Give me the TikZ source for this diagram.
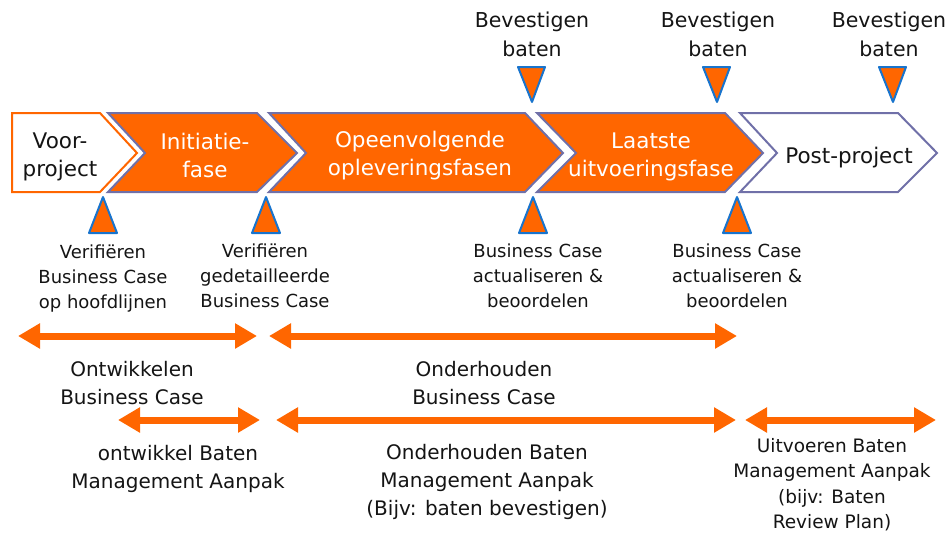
\documentclass[tikz,border=0pt]{standalone}
\usepackage{fontspec}
\setmainfont{DejaVu Sans}
\usetikzlibrary{arrows.meta}
\definecolor{orng}{RGB}{255,102,0}
\definecolor{chev}{RGB}{112,112,168}
\definecolor{tri}{RGB}{24,116,205}
\definecolor{ink}{RGB}{20,20,20}
\begin{document}
\begin{tikzpicture}[x=1pt,y=-1pt,
  chevorange/.style={fill=orng,draw=chev,line width=2pt,line join=miter},
  chevwhite/.style={fill=white,draw=chev,line width=2pt,line join=miter},
  triangle/.style={fill=orng,draw=tri,line width=2pt,line join=round},
  phasetext/.style={align=center,inner sep=0pt,font=\fontsize{21.5}{28}\selectfont},
  toptext/.style={align=center,inner sep=0pt,text=ink,font=\fontsize{20.5}{29}\selectfont},
  midtext/.style={align=center,inner sep=0pt,text=ink,font=\fontsize{18}{25}\selectfont},
  lowtext/.style={align=center,inner sep=0pt,text=ink,font=\fontsize{20}{28}\selectfont},
  smalltext/.style={align=center,inner sep=0pt,text=ink,font=\fontsize{18.5}{25.3}\selectfont},
  span/.style={draw=orng,line width=7pt,{Triangle[length=22pt,width=24pt]}-{Triangle[length=22pt,width=24pt]}}
]
\useasboundingbox (0,0) rectangle (950,533);

% chevrons
\draw[fill=white,draw=orng,line width=2pt] (12,113)--(100,113)--(137,153)--(100,192)--(12,192)--cycle;
\draw[chevorange] (108,113)--(257,113)--(297,153)--(257,192)--(108,192)--(145,153)--cycle;
\draw[chevorange] (269,113)--(525,113)--(563,153)--(525,192)--(269,192)--(306,153)--cycle;
\draw[chevorange] (537,113)--(725,113)--(763,153)--(725,192)--(537,192)--(576,153)--cycle;
\draw[chevwhite] (740,113)--(898,113)--(937,153)--(898,192)--(740,192)--(777,153)--cycle;

\node[phasetext,text=ink] (voor) at (60,156.5) {Voor-\\project};
\node[phasetext,text=white] (init) at (205,155.7) {Initiatie-\\fase};
\node[phasetext,text=white] (opeen) at (420,155.3) {Opeenvolgende\\opleveringsfasen};
\node[phasetext,text=white] (laatste) at (651,156.5) {Laatste\\uitvoeringsfase};
\node[phasetext,text=ink] (post) at (849,157.3) {Post-project};

% down triangles and labels
\draw[triangle] (518,67)--(545,67)--(532,102)--cycle;
\draw[triangle] (703,67)--(730,67)--(717,102)--cycle;
\draw[triangle] (879,67)--(906,67)--(893,102)--cycle;
\node[toptext] (bev1) at (532,34.7) {Bevestigen\\baten};
\node[toptext] (bev2) at (718,34.7) {Bevestigen\\baten};
\node[toptext] (bev3) at (889,34.7) {Bevestigen\\baten};

% up triangles and labels
\draw[triangle] (103,197)--(117,233)--(89,233)--cycle;
\draw[triangle] (266,197)--(280,233)--(252,233)--cycle;
\draw[triangle] (533,197)--(547,233)--(519,233)--cycle;
\draw[triangle] (737,197)--(751,233)--(723,233)--cycle;
\node[midtext] (ver1) at (103,278.3) {Verifiëren\\Business Case\\op hoofdlijnen};
\node[midtext] (ver2) at (265,276) {Verifiëren\\gedetailleerde\\Business Case};
\node[midtext] (act1) at (538,275.6) {Business Case\\actualiseren \&\\beoordelen};
\node[midtext] (act2) at (737,275.6) {Business Case\\actualiseren \&\\beoordelen};

% span arrows
\coordinate (a1l) at (18,336);  \coordinate (a1r) at (257,336);
\coordinate (a2l) at (269,336); \coordinate (a2r) at (737,336);
\coordinate (b1l) at (118,420); \coordinate (b1r) at (260,420);
\coordinate (b2l) at (276,420); \coordinate (b2r) at (736,420);
\coordinate (b3l) at (745,420); \coordinate (b3r) at (936,420);
\draw[span] (a1l) -- (a1r);
\draw[span] (a2l) -- (a2r);
\draw[span] (b1l) -- (b1r);
\draw[span] (b2l) -- (b2r);
\draw[span] (b3l) -- (b3r);

\node[lowtext] (ontw) at (132,383.4) {Ontwikkelen\\Business Case};
\node[lowtext] (onder) at (484,383.4) {Onderhouden\\Business Case};
\node[lowtext] (ontwb) at (178,468.7) {ontwikkel Baten\\Management Aanpak};
\node[lowtext] (onderb) at (487,482) {Onderhouden Baten\\Management Aanpak\\(Bijv: baten bevestigen)};
\node[smalltext] (uitv) at (832,484.7) {Uitvoeren Baten\\Management Aanpak\\(bijv: Baten\\Review Plan)};
\end{tikzpicture}
\end{document}
